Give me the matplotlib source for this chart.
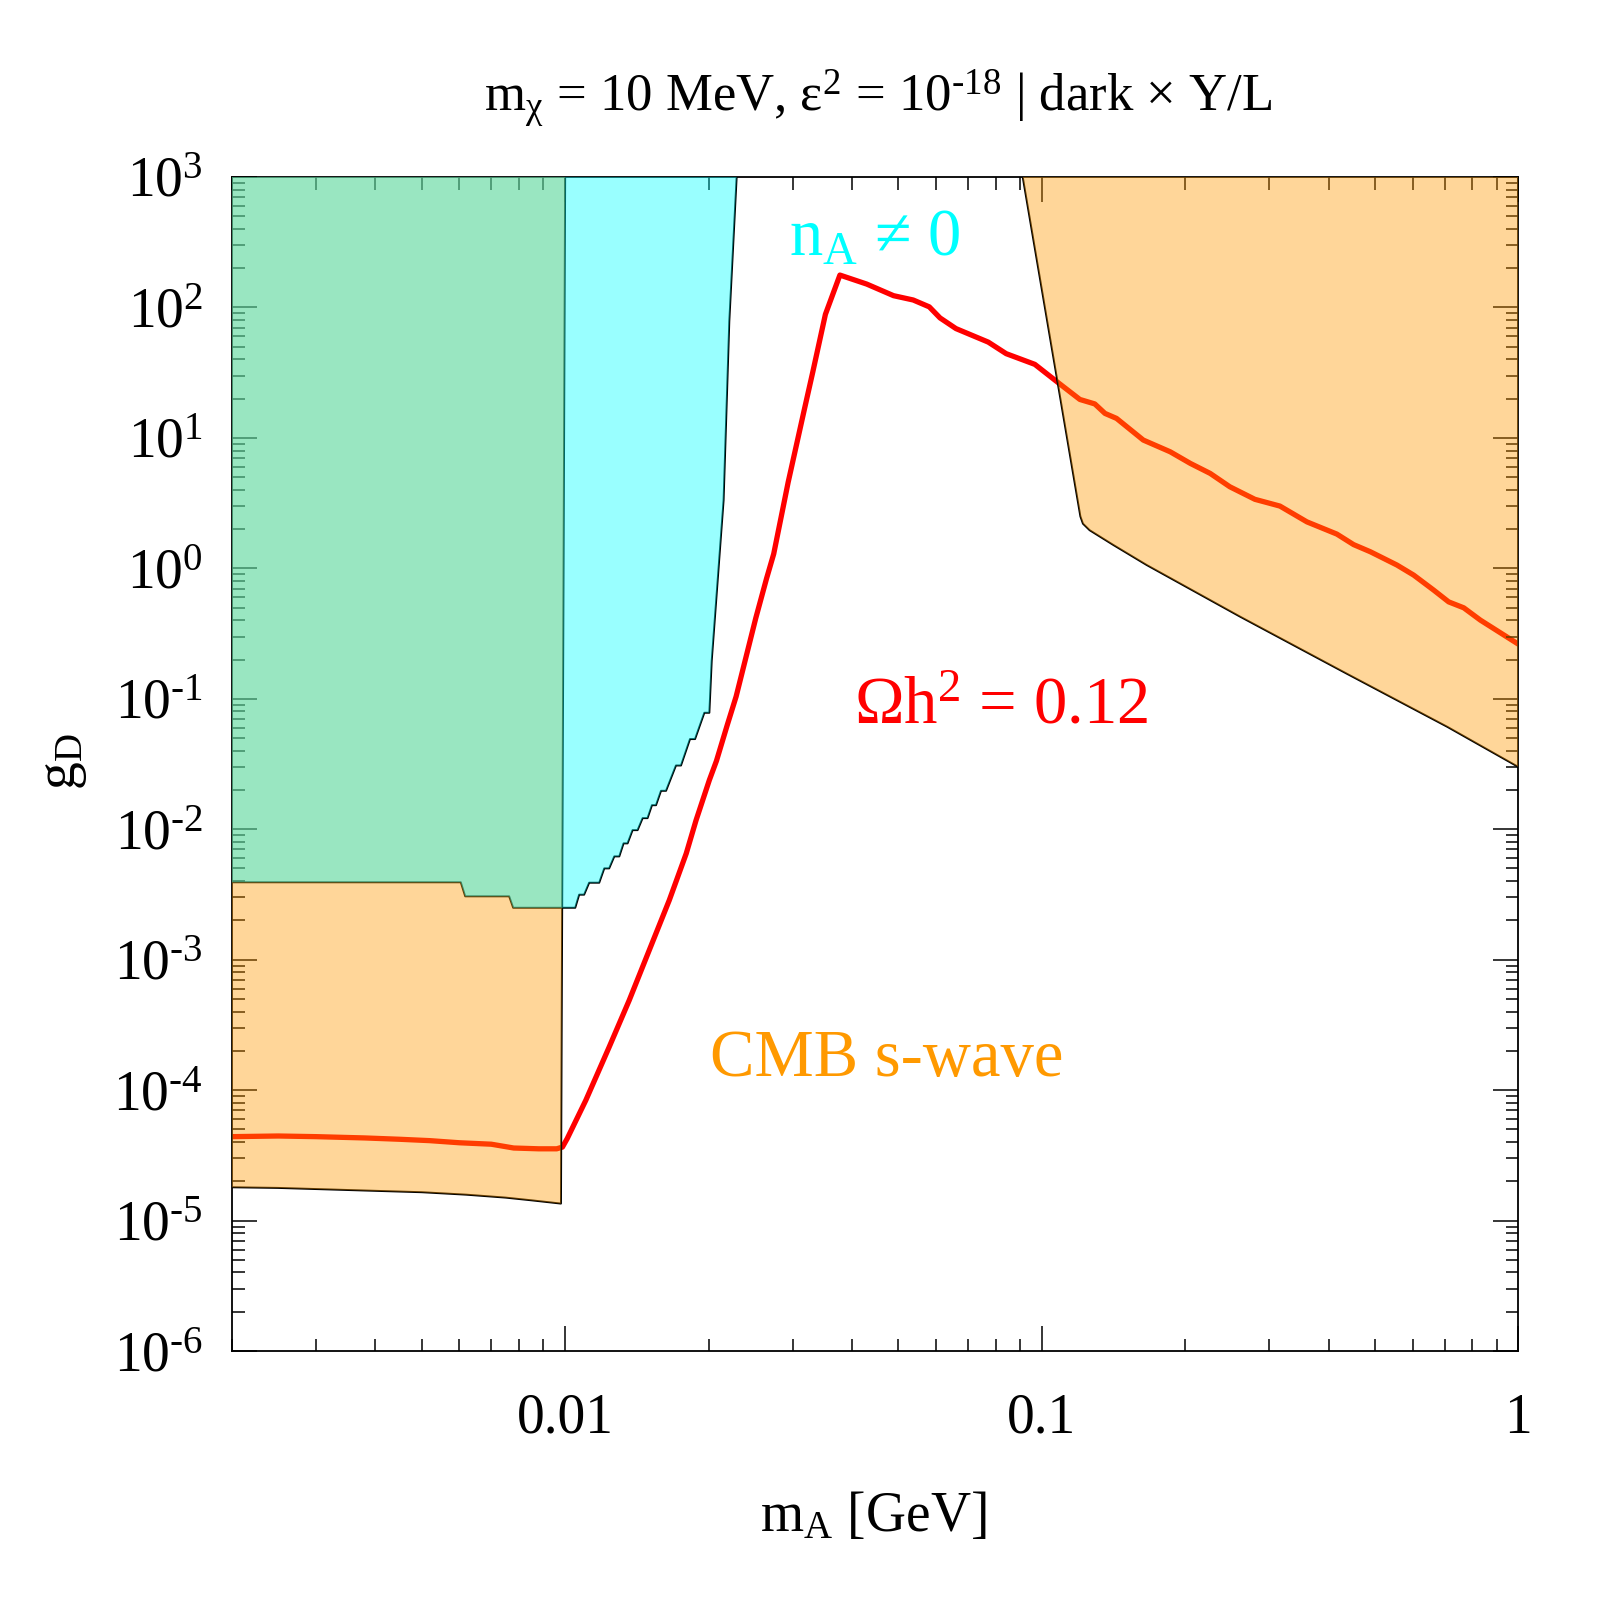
import math
import matplotlib
matplotlib.use("Agg")
from matplotlib import pyplot as plt
from matplotlib.ticker import FixedLocator, FuncFormatter, LogLocator

plt.rcParams["font.family"] = "Liberation Serif"
plt.rcParams["mathtext.fontset"] = "custom"
plt.rcParams["mathtext.rm"] = "Liberation Serif"
plt.rcParams["mathtext.it"] = "Liberation Serif:italic"
plt.rcParams["mathtext.default"] = "regular"

# relic density line, Omega h^2 = 0.12
relic_x = [0.002, 0.0025, 0.003, 0.0038, 0.0045, 0.0052, 0.006, 0.007, 0.0078, 0.0088,
           0.0096, 0.00987, 0.0101, 0.01105, 0.01237, 0.01363, 0.01501, 0.01654, 0.01795,
           0.01882, 0.02007, 0.02077, 0.02188, 0.02284, 0.02512, 0.02645, 0.02739, 0.02937,
           0.03171, 0.0331, 0.03516, 0.03771, 0.04292, 0.04887, 0.05373, 0.05807, 0.06116,
           0.06607, 0.07722, 0.0842, 0.0967, 0.1091, 0.1202, 0.1292, 0.1357, 0.1435, 0.1633,
           0.186, 0.205, 0.2256, 0.248, 0.280, 0.316, 0.360, 0.416, 0.451, 0.489, 0.556,
           0.603, 0.664, 0.714, 0.768, 0.832, 1.0]
relic_y = [4.4e-5, 4.45e-5, 4.4e-5, 4.3e-5, 4.2e-5, 4.1e-5, 3.95e-5, 3.85e-5, 3.6e-5, 3.55e-5,
           3.55e-5, 3.66e-5, 4.25e-5, 8.36e-5, 2.14e-4, 4.89e-4, 1.18e-3, 2.86e-3, 6.52e-3,
           1.17e-2, 2.38e-2, 0.0334, 0.0628, 0.104, 0.416, 0.832, 1.29, 4.57,
           16.1, 32.3, 88.5, 177, 151, 123, 114, 101, 83.1,
           68.8, 54.2, 44.2, 36.6, 25.9, 19.7, 18.2, 15.4, 14.1, 9.62,
           7.82, 6.37, 5.34, 4.22, 3.38, 3.0, 2.27, 1.83, 1.52, 1.34, 1.06,
           0.887, 0.681, 0.553, 0.498, 0.401, 0.262]

# CMB s-wave excluded region, low-mass part (lower edge, then right edge to the top)
cmb_lo_x = [0.002, 0.0025, 0.0038, 0.005, 0.0062, 0.0075, 0.0085, 0.0098, 0.0100]
cmb_lo_y = [1.80e-5, 1.78e-5, 1.70e-5, 1.65e-5, 1.58e-5, 1.50e-5, 1.43e-5, 1.35e-5, 1e3]

# CMB s-wave excluded region, high-mass part
cmb_hi_x = [0.0912, 0.1205, 0.122, 0.126, 0.1413, 0.166, 0.261, 0.436, 0.709, 1.0]
cmb_hi_y = [1e3, 2.5, 2.2, 1.96, 1.51, 1.06, 0.425, 0.156, 0.061, 0.030]

# n_A != 0 region (lower / right boundary)
na_x = [0.002, 0.00604, 0.00617, 0.00763, 0.00778, 0.01050, 0.01070, 0.01096, 0.01123,
        0.01179, 0.01208, 0.01237, 0.01268, 0.01299, 0.01326, 0.01352, 0.01385, 0.01419,
        0.01454, 0.01489, 0.01521, 0.01551, 0.01589, 0.01628, 0.01708, 0.01750, 0.01828,
        0.01873, 0.01959, 0.02007, 0.0203, 0.0215, 0.0221, 0.0229]
na_y = [3.92e-3, 3.92e-3, 3.06e-3, 3.06e-3, 2.50e-3, 2.50e-3, 3.15e-3, 3.15e-3, 3.89e-3,
        3.89e-3, 5.01e-3, 5.01e-3, 6.19e-3, 6.19e-3, 7.79e-3, 7.79e-3, 9.84e-3, 9.84e-3,
        0.01216, 0.01216, 0.01528, 0.01528, 0.0197, 0.0197, 0.0308, 0.0308, 0.0491,
        0.0491, 0.0781, 0.0781, 0.195, 3.33, 78, 1e3]

x_ticks = [0.01, 0.1, 1]
x_ticklabels = ["0.01", "0.1", "1"]
y_ticks = [10.0 ** k for k in range(-6, 4)]

orange = "#FF9900"
cyan = "#00FFFF"


def ylab(v, pos):
    k = round(math.log10(v))
    if k < 0:
        return r"$10^{\text{-}%d}$" % -k
    return r"$10^{%d}$" % k


fig = plt.figure(figsize=(16, 16), dpi=100)
ax = fig.add_axes([0.145, 0.1556, 0.804, 0.7338])

# relic line drawn first so the shaded bands tint it
ax.plot(relic_x, relic_y, color="red", lw=3.8, zorder=1, solid_joinstyle="round")

# black region borders, also under the transparent fills
ax.plot(cmb_lo_x, cmb_lo_y, color="black", lw=1.4, zorder=2)
ax.plot(cmb_hi_x, cmb_hi_y, color="black", lw=1.4, zorder=2)
ax.plot(na_x, na_y, color="black", lw=1.4, zorder=2)

ax.fill(cmb_lo_x + [0.002], cmb_lo_y + [1e3], color=orange, alpha=0.4, lw=0, zorder=3)
ax.fill(cmb_hi_x + [1.0], cmb_hi_y + [1e3], color=orange, alpha=0.4, lw=0, zorder=3)
ax.fill(na_x + [0.002], na_y + [1e3], color=cyan, alpha=0.4, lw=0, zorder=4)

ax.text(0.0295, 248, r"n$_\mathregular{A}$ ≠ 0", color=cyan, fontsize=48, va="baseline")
ax.text(0.0404, 0.065, r"Ωh$^2$ = 0.12", color="red", fontsize=48, va="baseline")
ax.text(0.02014, 1.28e-4, "CMB s-wave", color=orange, fontsize=48, va="baseline")

ax.set_xscale("log")
ax.set_yscale("log")
ax.set_xlim(0.002, 1)
ax.set_ylim(1e-6, 1e3)

ax.xaxis.set_major_locator(FixedLocator(x_ticks))
ax.xaxis.set_major_formatter(FuncFormatter(lambda v, p: x_ticklabels[x_ticks.index(v)] if v in x_ticks else ""))
ax.xaxis.set_minor_locator(LogLocator(base=10, subs=range(2, 10), numticks=20))
ax.xaxis.set_minor_formatter(FuncFormatter(lambda v, p: ""))
ax.yaxis.set_major_locator(FixedLocator(y_ticks))
ax.yaxis.set_major_formatter(FuncFormatter(ylab))
ax.yaxis.set_minor_locator(LogLocator(base=10, subs=range(2, 10), numticks=20))
ax.yaxis.set_minor_formatter(FuncFormatter(lambda v, p: ""))

ax.tick_params(which="both", direction="in", top=True, right=True, width=1.1)
ax.tick_params(which="major", length=18, labelsize=40)
ax.tick_params(which="minor", length=9)
ax.tick_params(axis="x", which="major", pad=30)
ax.tick_params(axis="y", which="major", pad=21)
for s in ax.spines.values():
    s.set_linewidth(1.3)

ax.set_xlabel(r"m$_\mathregular{A}$ [GeV]", fontsize=40, va="baseline")
ax.xaxis.set_label_coords(0.4986, -0.1533)
ax.set_ylabel(r"g$_\mathregular{D}$", fontsize=40, va="center")
ax.yaxis.set_label_coords(-0.1313, 0.502)

fig.text(0.5485, 1 - 111 / 1600, r"m$_χ$ = 10 MeV, ε$^2$ = 10$^{\text{-}18}$ | dark × Y/L",
         fontsize=38, ha="center", va="baseline")

fig.savefig("out.png", dpi=100)
